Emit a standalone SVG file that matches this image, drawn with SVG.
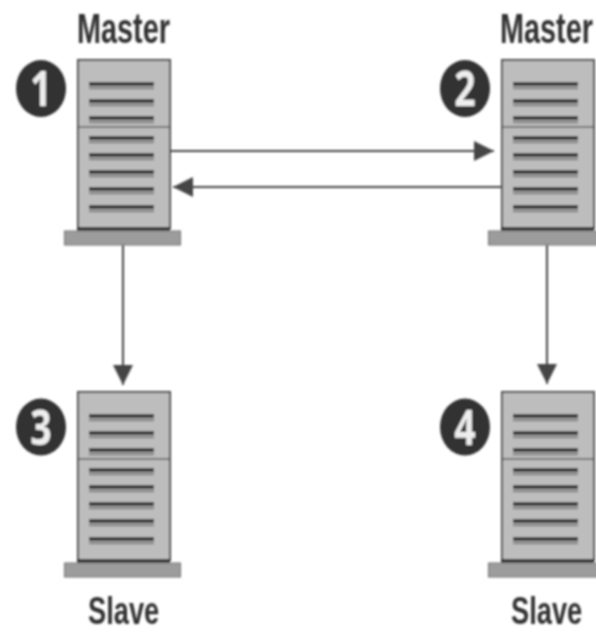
<svg xmlns="http://www.w3.org/2000/svg" xmlns:xlink="http://www.w3.org/1999/xlink" width="596" height="632" viewBox="0 0 596 632">
<style>
.body{fill:#bdbdbd;stroke:#4a4a4a;stroke-width:2}
.base{fill:#9c9c9c;stroke:#707070;stroke-width:1}
.foot{stroke:#2c2c2c;stroke-width:3.500;fill:none}
.div{stroke:#5c5c5c;stroke-width:1.500;fill:none}
.slat{stroke:#262626;stroke-width:3.500;fill:none}
.slat2{stroke:#858585;stroke-width:2.500;fill:none}
.badge{fill:#333}
.num{font-family:"Open Sans","Liberation Sans",sans-serif;font-weight:700;font-size:48px;fill:#eee;text-anchor:middle}
.lbl{font-family:"Liberation Sans",Arial,sans-serif;font-weight:700;font-size:42px;fill:#333}
.lbl2{font-family:"Liberation Sans",Arial,sans-serif;font-weight:700;font-size:39.500px;fill:#333}
.conn{stroke:#444;stroke-width:2;fill:none}
.head{fill:#444}
</style>
<defs>
<filter id="soft" x="-5%" y="-5%" width="110%" height="110%"><feGaussianBlur stdDeviation="1"/></filter>
<marker id="arrow" viewBox="0 0 20 20" refX="20" refY="10" markerWidth="20" markerHeight="20" markerUnits="userSpaceOnUse" orient="auto"><path class="head" d="M0 0L20 10L0 20Z"/></marker>
<g id="server">
<rect class="body" x="78" y="60" width="92" height="168"/>
<path class="foot" d="M77 229H170"/>
<path class="div" d="M78 127H169"/>
<path class="slat2" d="M89 88H154M89 105H154M89 122H154M89 142H154M89 159H154M89 176H154M89 193H154M89 211H154"/>
<path class="slat" d="M89 84H154M89 101H154M89 118H154M89 138H154M89 155H154M89 172H154M89 189H154M89 207H154"/>
<rect class="base" x="64.500" y="231" width="116" height="14"/>
</g>
</defs>
<g filter="url(#soft)">
<g id="connectors">
<path class="conn" d="M170 151H494" marker-end="url(#arrow)"/>
<path class="conn" d="M501 187H173" marker-end="url(#arrow)"/>
<path class="conn" d="M123 245V385" marker-end="url(#arrow)"/>
<path class="conn" d="M547 245V384" marker-end="url(#arrow)"/>
</g>
<g id="node1">
<text class="lbl" transform="translate(77 43) scale(.687 1)">Master</text>
<use xlink:href="#server" href="#server"/>
<ellipse class="badge" cx="41" cy="88.500" rx="25" ry="28.500"/>
<text class="num" transform="translate(41 106) scale(.78 1)">1</text>
</g>
<g id="node2">
<text class="lbl" transform="translate(500 43) scale(.687 1)">Master</text>
<use xlink:href="#server" href="#server" x="424"/>
<ellipse class="badge" cx="465" cy="88.500" rx="25" ry="28.500"/>
<text class="num" transform="translate(465 106) scale(.78 1)">2</text>
</g>
<g id="node3">
<use xlink:href="#server" href="#server" y="332"/>
<ellipse class="badge" cx="41" cy="427" rx="25" ry="28.500"/>
<text class="num" transform="translate(41 444.500) scale(.78 1)">3</text>
<text class="lbl2" transform="translate(88 623.500) scale(.69 1)">Slave</text>
</g>
<g id="node4">
<use xlink:href="#server" href="#server" x="424" y="332"/>
<ellipse class="badge" cx="465" cy="427" rx="25" ry="28.500"/>
<text class="num" transform="translate(465 444.500) scale(.78 1)">4</text>
<text class="lbl2" transform="translate(511 623.500) scale(.69 1)">Slave</text>
</g>
</g>
</svg>
